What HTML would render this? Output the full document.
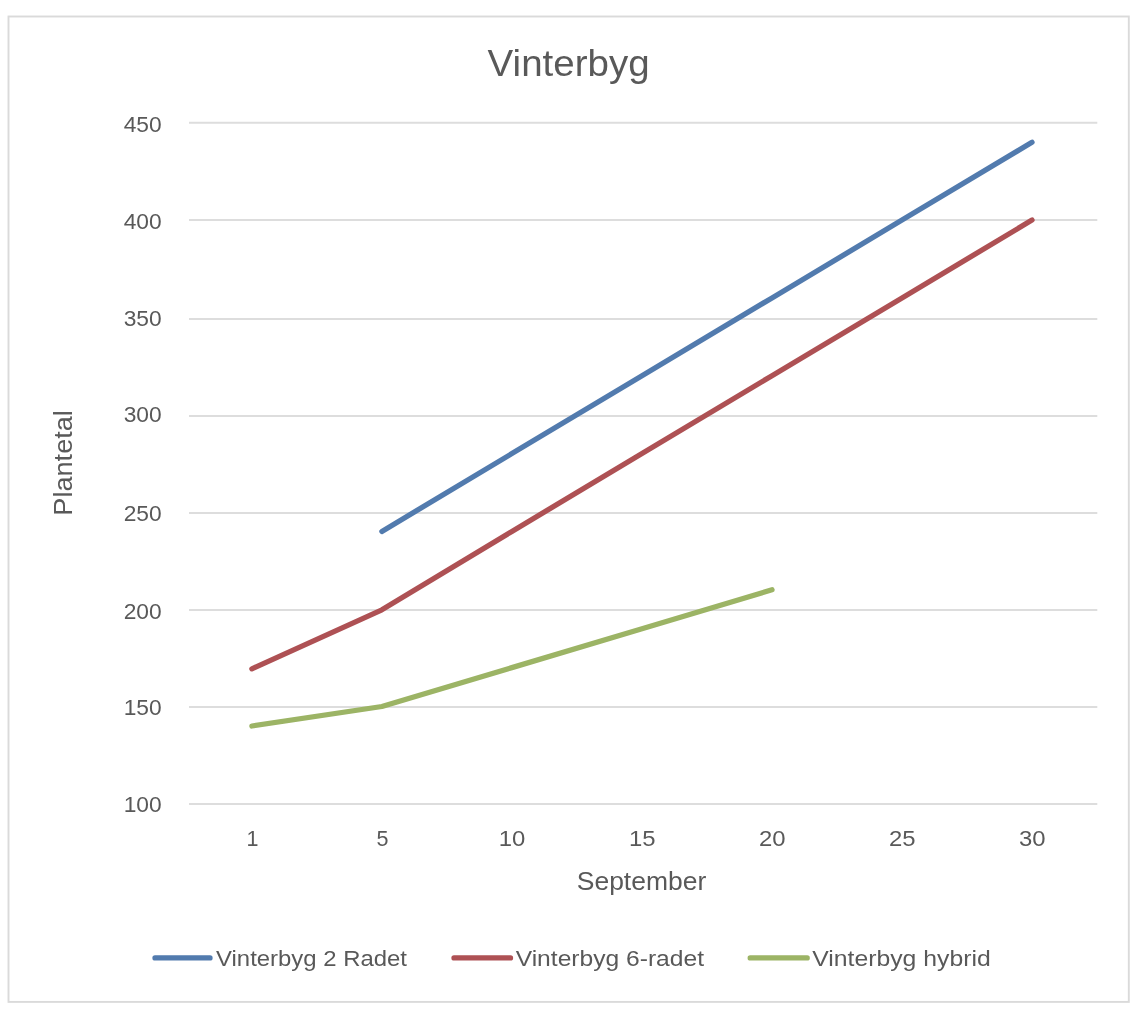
<!DOCTYPE html>
<html lang="da"><head><meta charset="utf-8"><title>Vinterbyg</title>
<style>
html,body{margin:0;padding:0;background:#fff;}
body{width:1146px;height:1029px;overflow:hidden;}
svg{display:block;}
text{font-family:"Liberation Sans",sans-serif;fill:#595959;}
.g{stroke:#dddddd;stroke-width:2;}
.s{fill:none;stroke-width:5.3;stroke-linecap:round;stroke-linejoin:round;}
</style></head><body>
<svg width="1146" height="1029" viewBox="0 0 1146 1029">
<rect x="0" y="0" width="1146" height="1029" fill="#ffffff"/>
<rect x="8.5" y="16.5" width="1120.3" height="985.4" fill="#ffffff" stroke="#dadada" stroke-width="1.9"/>
<text x="568.6" y="75.7" font-size="36" text-anchor="middle" textLength="162" lengthAdjust="spacingAndGlyphs">Vinterbyg</text>

<line class="g" x1="189.0" x2="1097.3" y1="803.9" y2="803.9"/>
<text x="161.7" y="812.0" font-size="22" text-anchor="end" textLength="38" lengthAdjust="spacingAndGlyphs">100</text>
<line class="g" x1="189.0" x2="1097.3" y1="706.9" y2="706.9"/>
<text x="161.7" y="715.2" font-size="22" text-anchor="end" textLength="38" lengthAdjust="spacingAndGlyphs">150</text>
<line class="g" x1="189.0" x2="1097.3" y1="609.9" y2="609.9"/>
<text x="161.7" y="618.6" font-size="22" text-anchor="end" textLength="38" lengthAdjust="spacingAndGlyphs">200</text>
<line class="g" x1="189.0" x2="1097.3" y1="512.9" y2="512.9"/>
<text x="161.7" y="520.9" font-size="22" text-anchor="end" textLength="38" lengthAdjust="spacingAndGlyphs">250</text>
<line class="g" x1="189.0" x2="1097.3" y1="415.9" y2="415.9"/>
<text x="161.7" y="422.1" font-size="22" text-anchor="end" textLength="38" lengthAdjust="spacingAndGlyphs">300</text>
<line class="g" x1="189.0" x2="1097.3" y1="318.9" y2="318.9"/>
<text x="161.7" y="325.5" font-size="22" text-anchor="end" textLength="38" lengthAdjust="spacingAndGlyphs">350</text>
<line class="g" x1="189.0" x2="1097.3" y1="219.9" y2="219.9"/>
<text x="161.7" y="228.7" font-size="22" text-anchor="end" textLength="38" lengthAdjust="spacingAndGlyphs">400</text>
<line class="g" x1="189.0" x2="1097.3" y1="122.8" y2="122.8"/>
<text x="161.7" y="131.7" font-size="22" text-anchor="end" textLength="38" lengthAdjust="spacingAndGlyphs">450</text>
<text x="252.4" y="846.3" font-size="22" text-anchor="middle" textLength="12.0" lengthAdjust="spacingAndGlyphs">1</text>
<text x="382.4" y="846.3" font-size="22" text-anchor="middle" textLength="12.0" lengthAdjust="spacingAndGlyphs">5</text>
<text x="512.1" y="846.3" font-size="22" text-anchor="middle" textLength="26.6" lengthAdjust="spacingAndGlyphs">10</text>
<text x="642.2" y="846.3" font-size="22" text-anchor="middle" textLength="26.6" lengthAdjust="spacingAndGlyphs">15</text>
<text x="772.2" y="846.3" font-size="22" text-anchor="middle" textLength="26.6" lengthAdjust="spacingAndGlyphs">20</text>
<text x="902.2" y="846.3" font-size="22" text-anchor="middle" textLength="26.6" lengthAdjust="spacingAndGlyphs">25</text>
<text x="1032.2" y="846.3" font-size="22" text-anchor="middle" textLength="26.6" lengthAdjust="spacingAndGlyphs">30</text>
<polyline class="s" stroke="#527bae" points="381.9,531.4 511.9,453.6 642.0,375.7 772.0,297.9 902.0,220.1 1032.0,142.3"/>
<polyline class="s" stroke="#ae5154" points="251.9,668.8 381.9,609.8 511.9,531.4 642.0,453.6 772.0,375.7 902.0,297.9 1032.0,220.1"/>
<polyline class="s" stroke="#9cb465" points="251.9,726.0 381.9,706.5 511.9,667.6 642.0,628.7 772.0,589.8"/>
<text x="641.5" y="889.7" font-size="25.5" text-anchor="middle" textLength="129.5" lengthAdjust="spacingAndGlyphs">September</text>
<text transform="translate(72,462.9) rotate(-90)" x="0" y="0" font-size="25.5" text-anchor="middle" textLength="105.5" lengthAdjust="spacingAndGlyphs">Plantetal</text>
<line class="s" stroke="#527bae" x1="155" x2="210" y1="957.9" y2="957.9"/>
<text x="216" y="966.1" font-size="22.5" textLength="191" lengthAdjust="spacingAndGlyphs">Vinterbyg 2 Radet</text>
<line class="s" stroke="#ae5154" x1="454" x2="510.5" y1="957.9" y2="957.9"/>
<text x="515.7" y="966.1" font-size="22.5" textLength="188.3" lengthAdjust="spacingAndGlyphs">Vinterbyg 6-radet</text>
<line class="s" stroke="#9cb465" x1="750.2" x2="807.2" y1="957.9" y2="957.9"/>
<text x="812.2" y="966.1" font-size="22.5" textLength="178.5" lengthAdjust="spacingAndGlyphs">Vinterbyg hybrid</text>
</svg></body></html>
